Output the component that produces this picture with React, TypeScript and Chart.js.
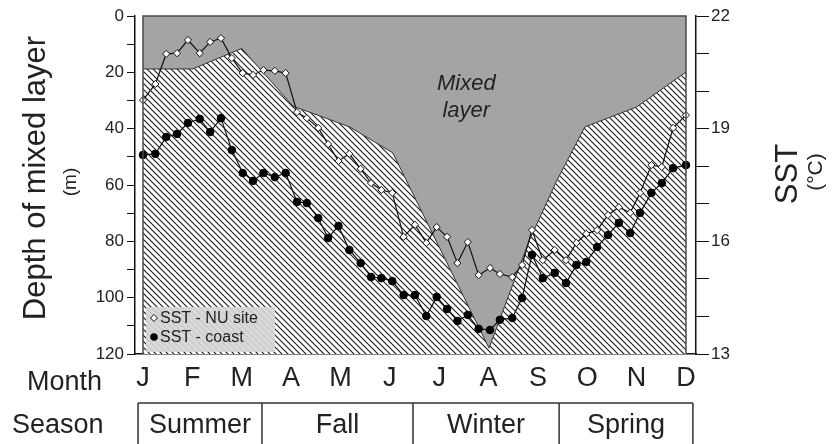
import React, { useEffect, useRef } from 'react';
import { Chart, registerables } from 'chart.js';

Chart.register(...registerables);

const FONT = '"Liberation Sans", Arial, Helvetica, sans-serif';

// Month tick letters (x = month index, J = 0 ... D = 11)
const monthLetters = ['J', 'F', 'M', 'A', 'M', 'J', 'J', 'A', 'S', 'O', 'N', 'D'];

// Sampling dates (in months from start of January)
const sampleMonth = [
  0, 0.25, 0.47, 0.69, 0.91, 1.15, 1.36, 1.58, 1.8, 2.02, 2.23, 2.44, 2.67, 2.89, 3.12, 3.32,
  3.55, 3.75, 3.96, 4.18, 4.41, 4.62, 4.83, 5.05, 5.28, 5.51, 5.74, 5.95, 6.16, 6.37, 6.58, 6.8,
  7.03, 7.23, 7.48, 7.68, 7.88, 8.1, 8.34, 8.57, 8.78, 8.98, 9.2, 9.42, 9.64, 9.87, 10.07, 10.3,
  10.51, 10.74, 11,
];

// SST at the NU site (°C)
const sstNU = [
  19.76, 20.19, 20.99, 21.01, 21.36, 21.01, 21.31, 21.41, 20.88, 20.48, 20.43, 20.56, 20.54, 20.48,
  19.44, 19.28, 19.02, 18.59, 18.14, 18.33, 17.93, 17.55, 17.37, 17.29, 16.12, 16.44, 15.96, 16.38,
  16.12, 15.42, 15.98, 15.1, 15.29, 15.13, 15.05, 15.37, 16.3, 15.5, 15.77, 15.5, 15.96, 16.2, 16.3,
  16.7, 16.91, 16.76, 17.29, 18.03, 17.98, 19.02, 19.36,
];

// SST at the coast (°C)
const sstCoast = [
  18.3, 18.33, 18.78, 18.86, 19.15, 19.26, 18.91, 19.28, 18.43, 17.82, 17.61, 17.82, 17.71, 17.82,
  17.05, 17.02, 16.62, 16.09, 16.41, 15.77, 15.42, 15.05, 15.02, 14.94, 14.57, 14.57, 14.01, 14.52,
  14.2, 13.88, 14.04, 13.67, 13.64, 13.91, 13.96, 14.49, 15.64, 15.02, 15.16, 14.89, 15.37, 15.45,
  15.85, 16.17, 16.49, 16.22, 16.76, 17.29, 17.55, 17.95, 18.03,
];

// Mixed layer depth (m)
const mldMonth = [0, 1.01, 2.0, 3.04, 4.19, 5.06, 7.01, 7.83, 8.39, 8.95, 10.0, 11.0];
const mldDepth = [18.8, 18.8, 11.5, 32, 39.4, 48.6, 117.9, 79.5, 58.2, 39.4, 32.3, 19.9];

// Seasons table
const seasons = ['Summer', 'Fall', 'Winter', 'Spring'];
const seasonEdges = [-0.1, 2.41, 5.47, 8.43, 11.14];

const legendItems = ['SST - NU site', 'SST - coast'];

const overlay = {
  id: 'overlay',
  afterDatasetsDraw(chart: any) {
    const { ctx, chartArea, scales } = chart;
    const xs = scales.x;
    const yd = scales.yDepth;
    const x0 = xs.getPixelForValue(0);
    const x1 = xs.getPixelForValue(11);
    ctx.save();
    // plot frame
    ctx.strokeStyle = '#4a4a4a';
    ctx.lineWidth = 1.5;
    ctx.beginPath();
    ctx.moveTo(x0, chartArea.bottom);
    ctx.lineTo(x0, chartArea.top);
    ctx.lineTo(x1, chartArea.top);
    ctx.lineTo(x1, chartArea.bottom);
    ctx.stroke();

    // "Mixed layer" label
    ctx.fillStyle = '#222';
    ctx.font = `italic 22px ${FONT}`;
    ctx.textAlign = 'center';
    ctx.textBaseline = 'alphabetic';
    const lx = xs.getPixelForValue(6.55);
    ctx.fillText('Mixed', lx, yd.getPixelForValue(26.3));
    ctx.fillText('layer', lx, yd.getPixelForValue(36));

    // legend
    const lgL = x0 + 3;
    const lgB = chartArea.bottom - 2;
    const lgT = lgB - 45;
    ctx.fillStyle = 'rgba(214,214,214,0.92)';
    ctx.fillRect(lgL, lgT, 129, 45);
    ctx.font = `16px ${FONT}`;
    ctx.textAlign = 'left';
    ctx.textBaseline = 'middle';
    legendItems.forEach((t, i) => {
      const cy = lgT + 11 + i * 19;
      const mx = lgL + 8;
      ctx.lineWidth = 1;
      ctx.strokeStyle = '#111';
      if (i === 0) {
        ctx.fillStyle = '#fff';
        ctx.beginPath();
        ctx.moveTo(mx, cy - 3.5);
        ctx.lineTo(mx + 3.5, cy);
        ctx.lineTo(mx, cy + 3.5);
        ctx.lineTo(mx - 3.5, cy);
        ctx.closePath();
        ctx.fill();
        ctx.stroke();
      } else {
        ctx.fillStyle = '#000';
        ctx.beginPath();
        ctx.arc(mx, cy, 3.8, 0, Math.PI * 2);
        ctx.fill();
      }
      ctx.fillStyle = '#222';
      ctx.fillText(t, mx + 6, cy + 1);
    });
    ctx.restore();
  },
  afterDraw(chart: any) {
    const { ctx, scales } = chart;
    const xs = scales.x;
    ctx.save();
    ctx.fillStyle = '#222';
    ctx.textBaseline = 'alphabetic';

    // left axis title
    ctx.save();
    ctx.translate(45, 178);
    ctx.rotate(-Math.PI / 2);
    ctx.textAlign = 'center';
    ctx.font = `31px ${FONT}`;
    ctx.fillText('Depth of mixed layer', 0, 0);
    ctx.restore();

    ctx.save();
    ctx.translate(76, 182);
    ctx.rotate(-Math.PI / 2);
    ctx.textAlign = 'center';
    ctx.font = `19px ${FONT}`;
    ctx.fillText('(m)', 0, 0);
    ctx.restore();

    // right axis title
    ctx.save();
    ctx.translate(797, 174);
    ctx.rotate(-Math.PI / 2);
    ctx.textAlign = 'center';
    ctx.font = `31px ${FONT}`;
    ctx.fillText('SST', 0, 0);
    ctx.restore();

    ctx.save();
    ctx.translate(822, 172);
    ctx.rotate(-Math.PI / 2);
    ctx.textAlign = 'center';
    ctx.font = `21px ${FONT}`;
    ctx.fillText('(°C)', 0, 0);
    ctx.restore();

    // Month row label
    ctx.textAlign = 'left';
    ctx.font = `27px ${FONT}`;
    ctx.fillText('Month', 27, 390);

    // Season row
    ctx.fillText('Season', 12, 433);
    const top = 403;
    const edgesPx = seasonEdges.map((e) => xs.getPixelForValue(e));
    ctx.strokeStyle = '#333';
    ctx.lineWidth = 1.5;
    ctx.beginPath();
    ctx.moveTo(edgesPx[0], top);
    ctx.lineTo(edgesPx[edgesPx.length - 1], top);
    edgesPx.forEach((p) => {
      ctx.moveTo(p, top);
      ctx.lineTo(p, 450);
    });
    ctx.stroke();
    ctx.textAlign = 'center';
    seasons.forEach((s, i) => {
      ctx.fillText(s, (edgesPx[i] + edgesPx[i + 1]) / 2, 433);
    });
    ctx.restore();
  },
};

export default function App() {
  const ref = useRef<HTMLCanvasElement>(null);

  useEffect(() => {
    const canvas = ref.current!;
    const pc = document.createElement('canvas');
    pc.width = 6;
    pc.height = 6;
    const p = pc.getContext('2d')!;
    p.fillStyle = '#fff';
    p.fillRect(0, 0, 6, 6);
    p.strokeStyle = '#1a1a1a';
    p.lineWidth = 1.1;
    p.beginPath();
    p.moveTo(-1, -1);
    p.lineTo(7, 7);
    p.moveTo(-1, 5);
    p.lineTo(1, 7);
    p.moveTo(5, -1);
    p.lineTo(7, 1);
    p.stroke();
    const hatch = canvas.getContext('2d')!.createPattern(pc, 'repeat');

    const mld = mldMonth.map((m, i) => ({ x: m, y: mldDepth[i] }));

    const isMajorSST = (v: number) => {
      const k = (v - 13) / 1.5;
      return Math.abs(k - Math.round(k)) < 1e-6;
    };

    const chart = new Chart(canvas, {
      type: 'line',
      data: {
        datasets: [
          {
            label: legendItems[0],
            data: sampleMonth.map((m, i) => ({ x: m, y: sstNU[i] })),
            yAxisID: 'ySST',
            borderColor: '#111',
            borderWidth: 1.2,
            pointStyle: 'rectRot',
            pointRadius: 3.6,
            pointBackgroundColor: '#fff',
            pointBorderColor: '#111',
            pointBorderWidth: 1,
            fill: false,
            tension: 0,
          },
          {
            label: legendItems[1],
            data: sampleMonth.map((m, i) => ({ x: m, y: sstCoast[i] })),
            yAxisID: 'ySST',
            borderColor: '#111',
            borderWidth: 1.2,
            pointStyle: 'circle',
            pointRadius: 3.8,
            pointBackgroundColor: '#000',
            pointBorderColor: '#000',
            pointBorderWidth: 1,
            fill: false,
            tension: 0,
          },
          {
            label: 'Mixed layer',
            data: mld,
            yAxisID: 'yDepth',
            borderColor: '#333',
            borderWidth: 1,
            pointRadius: 0,
            fill: { value: 0 },
            backgroundColor: '#a4a4a4',
            tension: 0,
          },
          {
            label: 'Below mixed layer',
            data: mld,
            yAxisID: 'yDepth',
            borderWidth: 0,
            borderColor: 'rgba(0,0,0,0)',
            pointRadius: 0,
            fill: { value: 120 },
            backgroundColor: hatch as any,
            tension: 0,
          },
        ],
      },
      options: {
        responsive: false,
        animation: false,
        devicePixelRatio: 1,
        layout: { padding: { top: 16, left: 0, right: 0, bottom: 0 } },
        plugins: { legend: { display: false }, tooltip: { enabled: false } },
        scales: {
          x: {
            type: 'linear',
            position: 'bottom',
            min: -0.162,
            max: 11.203,
            afterBuildTicks: (s: any) => {
              s.ticks = monthLetters.map((_, i) => ({ value: i }));
            },
            afterFit: (s: any) => {
              s.height = 90;
            },
            ticks: {
              callback: (v: any) => monthLetters[v],
              font: { family: FONT, size: 27 },
              color: '#222',
              padding: 8,
              maxRotation: 0,
              autoSkip: false,
            },
            grid: { display: false, drawTicks: false },
            border: { display: true, color: '#111', width: 1.5 },
          },
          yDepth: {
            type: 'linear',
            position: 'left',
            reverse: true,
            min: 0,
            max: 120,
            afterFit: (s: any) => {
              s.width = 135;
            },
            ticks: {
              stepSize: 10,
              callback: (v: any) => (v % 20 === 0 ? String(v) : ''),
              font: { family: FONT, size: 17 },
              color: '#222',
              padding: 3,
            },
            grid: { drawOnChartArea: false, tickLength: 8, color: '#111', lineWidth: 1 },
            border: { display: true, color: '#111', width: 1.5 },
          },
          ySST: {
            type: 'linear',
            position: 'right',
            min: 13,
            max: 22,
            afterFit: (s: any) => {
              s.width = 143;
            },
            ticks: {
              stepSize: 0.5,
              callback: (v: any) => (isMajorSST(v) ? String(v) : ''),
              font: { family: FONT, size: 17 },
              color: '#222',
              padding: 2,
            },
            grid: { drawOnChartArea: false, tickLength: 13, color: '#111', lineWidth: 1 },
            border: { display: true, color: '#111', width: 1.5 },
          },
        },
      } as any,
      plugins: [overlay],
    });
    return () => chart.destroy();
  }, []);

  return (
    <div style={{ position: 'fixed', left: 0, top: 0, width: 839, height: 444, background: '#fff' }}>
      <canvas ref={ref} width={839} height={444} style={{ display: 'block' }} />
    </div>
  );
}
